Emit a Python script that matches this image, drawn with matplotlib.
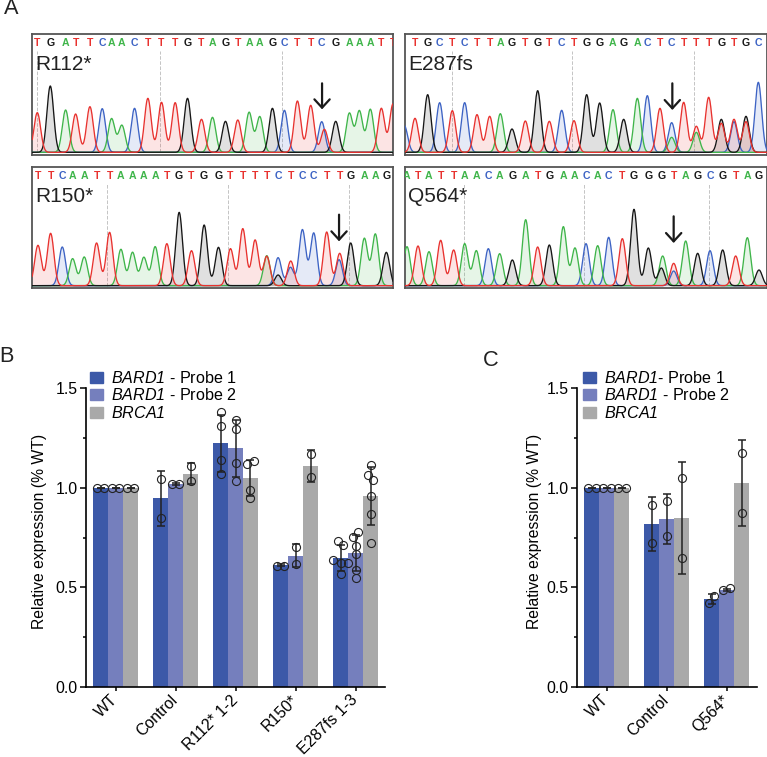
import numpy as np
import matplotlib
matplotlib.use("Agg")
import matplotlib.pyplot as plt
from matplotlib.patches import Patch

plt.rcParams["font.family"] = ["Liberation Sans", "DejaVu Sans"]
# digits stay upright in \mathit, so the italic gene names go through \mathbf
plt.rcParams["mathtext.fontset"] = "custom"
plt.rcParams["mathtext.rm"] = "Liberation Sans"
plt.rcParams["mathtext.bf"] = "Liberation Sans:italic"

W, H = 767, 757

# sequencing traces: called base, peak position, peak height
r112_seq = "TGATTCAACTTTGTAGTAAGCTTCGAAATT"
r112_pos = [52, 91, 137, 167, 210, 247, 275, 306, 344, 384, 425, 466, 503, 545, 578,
            617, 654, 688, 720, 758, 794, 833, 873, 906, 948, 989, 1019, 1052, 1085, 1120]
r112_h = [119, 199, 127, 115, 137, 131, 101, 81, 132, 162, 150, 149, 162, 99, 105,
          93, 97, 120, 107, 132, 126, 154, 141, 92, 93, 117, 124, 129, 132, 145]
r112_extra = [("T", 914, 69)]

e287_seq = "TGCTCTTAGTGTCTGGAGACTCTTTGTGC"
e287_pos = [60, 98, 134, 172, 209, 246, 284, 316, 351, 391, 428, 463, 500, 537, 575,
            614, 654, 686, 727, 757, 795, 830, 866, 904, 941, 979, 1017, 1053, 1090]
e287_h = [102, 173, 149, 125, 149, 113, 108, 116, 70, 94, 185, 93, 126, 95, 173,
          148, 128, 99, 162, 170, 132, 89, 150, 78, 165, 99, 99, 108, 210]
e287_extra = [("A", 830, 45), ("A", 904, 60), ("T", 979, 87), ("C", 1017, 92),
              ("T", 1053, 92), ("C", 28, 80)]

r150_seq = "TTCAATTAAAATGTGGTTTTCTCCTTGAAG"
r150_pos = [54, 92, 127, 158, 193, 230, 269, 303, 338, 372, 406, 441, 478, 515, 553,
            596, 632, 669, 706, 741, 775, 813, 848, 882, 921, 960, 993, 1034, 1067, 1100]
r150_h = [121, 157, 116, 81, 86, 128, 160, 109, 100, 85, 117, 126, 220, 105, 182,
          115, 111, 171, 137, 88, 84, 74, 168, 158, 161, 97, 128, 142, 155, 100]
r150_extra = [("A", 741, 90), ("G", 775, 32), ("C", 812, 55), ("C", 958, 78)]

q564_seq = "ATATTAACAGATGAACACTGGGTAGCGTAG"
q564_pos = [36, 69, 102, 137, 176, 209, 244, 280, 314, 352, 392, 428, 463, 505, 540,
            573, 608, 641, 682, 717, 760, 799, 836, 872, 908, 945, 983, 1022, 1057, 1092]
q564_h = [117, 119, 102, 136, 107, 126, 105, 111, 96, 77, 198, 116, 122, 177, 113,
          126, 120, 145, 141, 229, 113, 53, 67, 134, 97, 105, 107, 89, 144, 47]
q564_extra = [("A", 803, 89), ("C", 836, 44)]

# bar chart B
b_groups = ["WT", "Control", "R112* 1-2", "R150*", "E287fs 1-3"]
b_p1 = [1.0, 0.947, 1.222, 0.614, 0.648]
b_p2 = [1.0, 1.018, 1.197, 0.658, 0.673]
b_br = [1.0, 1.07, 1.048, 1.108, 0.96]
b_p1_sd = [0, 0.137, 0.142, 0.005, 0.064]
b_p2_sd = [0, 0.005, 0.142, 0.058, 0.09]
b_br_sd = [0, 0.053, 0.092, 0.079, 0.145]
b_p1_pts = [[1, 1], [1.043, 0.85], [1.376, 1.306, 1.14, 1.067], [0.609, 0.609],
            [0.733, 0.713, 0.639, 0.621, 0.621, 0.566]]
b_p2_pts = [[1, 1], [1.017, 1.017], [1.336, 1.295, 1.125, 1.032], [0.70, 0.616],
            [0.751, 0.778, 0.708, 0.668, 0.589, 0.548]]
b_br_pts = [[1, 1], [1.11, 1.035], [1.119, 1.134, 0.988, 0.95], [1.167, 1.052],
            [1.114, 1.065, 1.037, 0.958, 0.87, 0.72]]

# bar chart C
c_groups = ["WT", "Control", "Q564*"]
c_p1 = [1.0, 0.818, 0.441]
c_p2 = [1.0, 0.843, 0.487]
c_br = [1.0, 0.848, 1.023]
c_p1_sd = [0, 0.136, 0.024]
c_p2_sd = [0, 0.124, 0.005]
c_br_sd = [0, 0.281, 0.215]
c_p1_pts = [[1, 1], [0.913, 0.721], [0.424, 0.457]]
c_p2_pts = [[1, 1], [0.932, 0.758], [0.486, 0.496]]
c_br_pts = [[1, 1], [1.047, 0.649], [1.175, 0.871]]

base_col = {"T": "#e8322f", "G": "#161616", "A": "#3fb54a", "C": "#3d63c4"}
bar_cols = ["#3c59a8", "#757fbd", "#a9a9a9"]

fig = plt.figure(figsize=(W / 100, H / 100), dpi=100)


def px_axes(left, top, right, bottom):
    return fig.add_axes([left / W, 1 - bottom / H, (right - left) / W, (bottom - top) / H])


def trace(box, xlim, ylim, name, seq, pos, h, extra, grid, arrow):
    ax = px_axes(*box)
    ax.set_xlim(*xlim)
    ax.set_ylim(*ylim)
    ax.set_xticks([])
    ax.set_yticks([])
    for s in ax.spines.values():
        s.set_color("#555555")
        s.set_linewidth(1.3)
    for g in grid:
        ax.plot([g, g], [0, ylim[1] - 50], color="#c4c4c4", lw=0.7, ls="--", zorder=1)
    x = np.linspace(xlim[0], xlim[1], 1500)
    peaks = list(zip(seq, pos, h)) + extra
    for base in "CAGT":
        y = np.zeros_like(x)
        for b, p, v in peaks:
            if b == base:
                y += v * np.exp(-((x - p) ** 2) / (2 * 10.0 ** 2))
        ax.fill_between(x, 0, y, color=base_col[base], alpha=0.13, lw=0, zorder=2)
        ax.plot(x, y, color=base_col[base], lw=0.95, zorder=3)
    for b, p in zip(seq, pos):
        ax.text(p, ylim[1] - 28, b, color=base_col[b], fontsize=7.6, fontweight="bold",
                ha="center", va="center", clip_on=True)
    ax.text(xlim[0] + 10, ylim[1] - 90, name, fontsize=15, color="#222222", va="center")
    ax.annotate("", xy=(arrow[0], arrow[2]), xytext=(arrow[0], arrow[1]),
                arrowprops=dict(arrowstyle="->,head_length=0.6,head_width=0.55",
                                color="#1a1a1a", lw=1.6, shrinkA=0, shrinkB=0), zorder=5)


trace((32.3, 34, 393, 155), (37, 1120), (-8, 355), "R112*", r112_seq, r112_pos, r112_h,
      r112_extra, [52, 421, 787], (907, 207, 129))
trace((405, 34, 767, 155), (30, 1116), (-8, 355), "E287fs", e287_seq, e287_pos, e287_h,
      e287_extra, [170, 532, 898], (832, 207, 127))
trace((32.3, 167, 393, 288), (37, 1120), (-7, 356), "R150*", r150_seq, r150_pos, r150_h,
      r150_extra, [262, 625, 989], (958, 213, 133))
trace((405, 167, 767, 288), (30, 1116), (-7, 356), "Q564*", q564_seq, q564_pos, q564_h,
      q564_extra, [206, 568, 942], (836, 208, 128))


def spread(vals, width):
    # neighbours closer than a marker get pushed apart, keeping the listed order
    out = np.zeros(len(vals))
    i = 0
    while i < len(vals):
        j = i
        while j + 1 < len(vals) and abs(vals[j + 1] - vals[j]) < 0.037:
            j += 1
        n = j - i + 1
        if n > 1:
            step = max(1 - (abs(vals[k + 1] - vals[k]) / 0.037) ** 2 for k in range(i, j))
            out[i:j + 1] = (np.arange(n) - (n - 1) / 2) * max(step, 0.6) * width
        i = j + 1
    return out


def bars(box, groups, means, sds, pts, labels, legend_px, ylabel_x):
    ax = px_axes(*box)
    bw = 0.25
    xs = np.arange(len(groups))
    for k in range(3):
        xk = xs + (k - 1) * bw
        ax.bar(xk, means[k], width=bw, color=bar_cols[k], zorder=2)
        ax.errorbar(xk, means[k], yerr=sds[k], fmt="none", ecolor="#222222", elinewidth=1.1,
                    capsize=3.2, capthick=1.1, zorder=3)
        for x0, vals in zip(xk, pts[k]):
            off = spread(vals, 0.128)
            ax.plot(x0 + off, vals, "o", mfc="none", mec="#222222", mew=0.8, ms=5.8,
                    ls="none", zorder=4, clip_on=False)
    ax.set_xlim(-0.5, len(groups) - 0.5)
    ax.set_ylim(0, 1.5)
    ax.set_xticks(xs)
    ax.set_xticklabels(groups, rotation=45, ha="right", va="center", rotation_mode="anchor",
                       fontsize=11.4)
    ax.set_yticks([0, 0.5, 1.0, 1.5])
    ax.set_yticklabels(["0.0", "0.5", "1.0", "1.5"], fontsize=11.4)
    ax.set_yticks([0.25, 0.75, 1.25], minor=True)
    ax.tick_params(axis="y", which="major", width=1.1, length=4.2, pad=1.5)
    ax.tick_params(axis="y", which="minor", width=1.1, length=2.2)
    ax.tick_params(axis="x", which="major", width=1.1, length=3, pad=4.5)
    for s in ["top", "right"]:
        ax.spines[s].set_visible(False)
    for s in ["left", "bottom"]:
        ax.spines[s].set_linewidth(1.2)
    ax.set_ylabel("Relative expression (% WT)", fontsize=11.3)
    ax.yaxis.set_label_coords(ylabel_x / W, 1 - 531 / H, transform=fig.transFigure)
    handles = [Patch(color=c) for c in bar_cols]
    fig.legend(handles, labels, loc="upper left", bbox_to_anchor=(legend_px[0] / W, 1 - legend_px[1] / H),
               frameon=False, fontsize=11.6, handlelength=0.82, handleheight=0.66,
               handletextpad=0.5, labelspacing=0.09, borderpad=0, borderaxespad=0)


bars((85.5, 387.7, 385.5, 687.3), b_groups, [b_p1, b_p2, b_br], [b_p1_sd, b_p2_sd, b_br_sd],
     [b_p1_pts, b_p2_pts, b_br_pts],
     [r"$\mathbf{BARD1}$ - Probe 1", r"$\mathbf{BARD1}$ - Probe 2", r"$\mathbf{BRCA1}$"],
     (90, 370), 47)
bars((576.7, 387.7, 756.7, 687.3), c_groups, [c_p1, c_p2, c_br], [c_p1_sd, c_p2_sd, c_br_sd],
     [c_p1_pts, c_p2_pts, c_br_pts],
     [r"$\mathbf{BARD1}$- Probe 1", r"$\mathbf{BARD1}$ - Probe 2", r"$\mathbf{BRCA1}$"],
     (583, 370), 542)

for lab, x, y in [("A", 11, 9), ("B", 6, 356.5), ("C", 491, 361)]:
    fig.text(x / W, 1 - y / H, lab, fontsize=15.7, ha="center", va="center", color="#222222")

fig.savefig("out.png", dpi=100)
